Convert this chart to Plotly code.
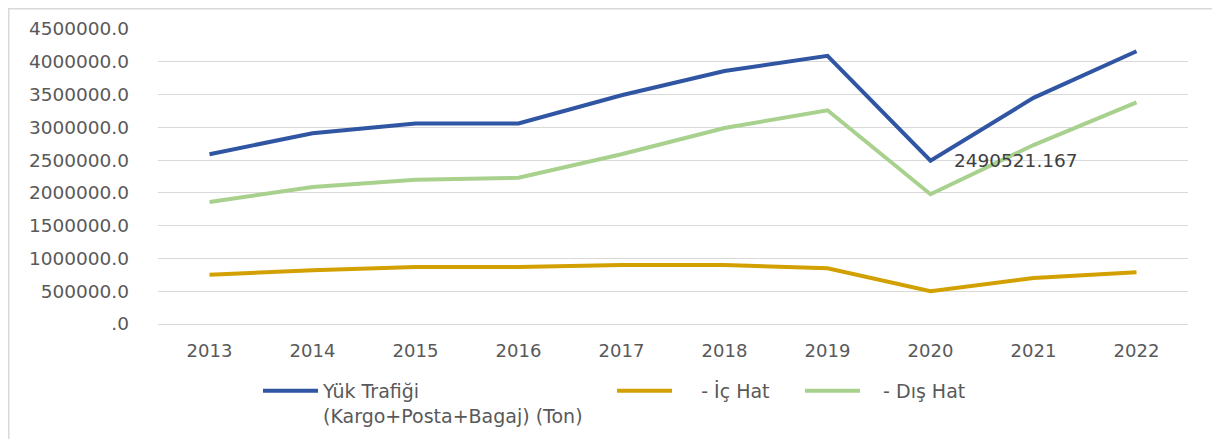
import plotly.graph_objects as go

years = ["2013", "2014", "2015", "2016", "2017", "2018", "2019", "2020", "2021", "2022"]
yuk_trafigi = [2590000, 2910000, 3060000, 3060000, 3490000, 3860000, 4090000, 2490521.167, 3450000, 4160000]
ic_hat = [750000, 820000, 870000, 870000, 900000, 900000, 850000, 500000, 700000, 790000]
dis_hat = [1860000, 2090000, 2200000, 2230000, 2590000, 2990000, 3260000, 1980000, 2730000, 3380000]

y_tickvals = [0, 500000, 1000000, 1500000, 2000000, 2500000, 3000000, 3500000, 4000000, 4500000]
y_ticktext = [".0", "500000.0", "1000000.0", "1500000.0", "2000000.0", "2500000.0",
              "3000000.0", "3500000.0", "4000000.0", "4500000.0"]

NB = "\u00a0"
names = ["Yük Trafiği<br>(Kargo+Posta+Bagaj) (Ton)",
         NB * 4 + "- İç Hat",
         NB * 3 + "- Dış Hat"]
colors = ["#2F55A3", "#D2A000", "#A9D18E"]

# page has an 8px body margin; figure pixel coords = screen coords - 8
W, H = 1212, 431
L, R, T, B = 150, 32, 21, 115
pw, ph = W - L - R, H - T - B

def px2x(px):
    return (px - L) / pw

def py2y(py):
    return (H - B - py) / ph

fig = go.Figure()
series = [yuk_trafigi, ic_hat, dis_hat]
legends = ["legend", "legend2", "legend3"]
for s, n, c, lg in zip(series, names, colors, legends):
    fig.add_trace(go.Scatter(x=years, y=s, name=n, mode="lines",
                             line=dict(color=c, width=4), legend=lg, showlegend=True))

i2020 = years.index("2020")
fig.add_annotation(x=i2020, y=yuk_trafigi[i2020], text=f"{yuk_trafigi[i2020]}",
                   showarrow=False, xanchor="left", yanchor="middle", xshift=21,
                   font=dict(family="DejaVu Sans", size=18.5, color="#404040"))

fig.add_shape(type="rect", xref="paper", yref="paper",
              x0=px2x(0.5), x1=px2x(1205), y0=py2y(460), y1=py2y(0.5),
              line=dict(color="#D9D9D9", width=2), fillcolor="rgba(0,0,0,0)", layer="below")

legfont = dict(family="DejaVu Sans", size=19, color="#595959")
legcommon = dict(xanchor="left", yanchor="top", orientation="h", valign="top",
                 font=legfont, bgcolor="rgba(0,0,0,0)", itemwidth=55)
fig.update_layout(
    width=W, height=H,
    margin=dict(l=L, r=R, t=T, b=B, autoexpand=False),
    showlegend=True,
    paper_bgcolor="white", plot_bgcolor="white",
    xaxis=dict(type="category", range=[-0.5, 9.5], showgrid=False,
               showline=True, linecolor="#D9D9D9", linewidth=1,
               ticks="", ticklabelstandoff=10,
               tickfont=dict(family="DejaVu Sans", size=18, color="#595959")),
    yaxis=dict(range=[0, 4500000], tickvals=y_tickvals, ticktext=y_ticktext,
               showgrid=True, gridcolor="#D9D9D9", gridwidth=1, zeroline=False,
               showline=False, ticks="", ticklabelstandoff=28,
               tickfont=dict(family="DejaVu Sans", size=18.5, color="#595959")),
    legend=dict(x=px2x(250), y=py2y(364), **legcommon),
    legend2=dict(x=px2x(604), y=py2y(364), **legcommon),
    legend3=dict(x=px2x(792), y=py2y(364), **legcommon),
)

fig.write_html("out.html")
